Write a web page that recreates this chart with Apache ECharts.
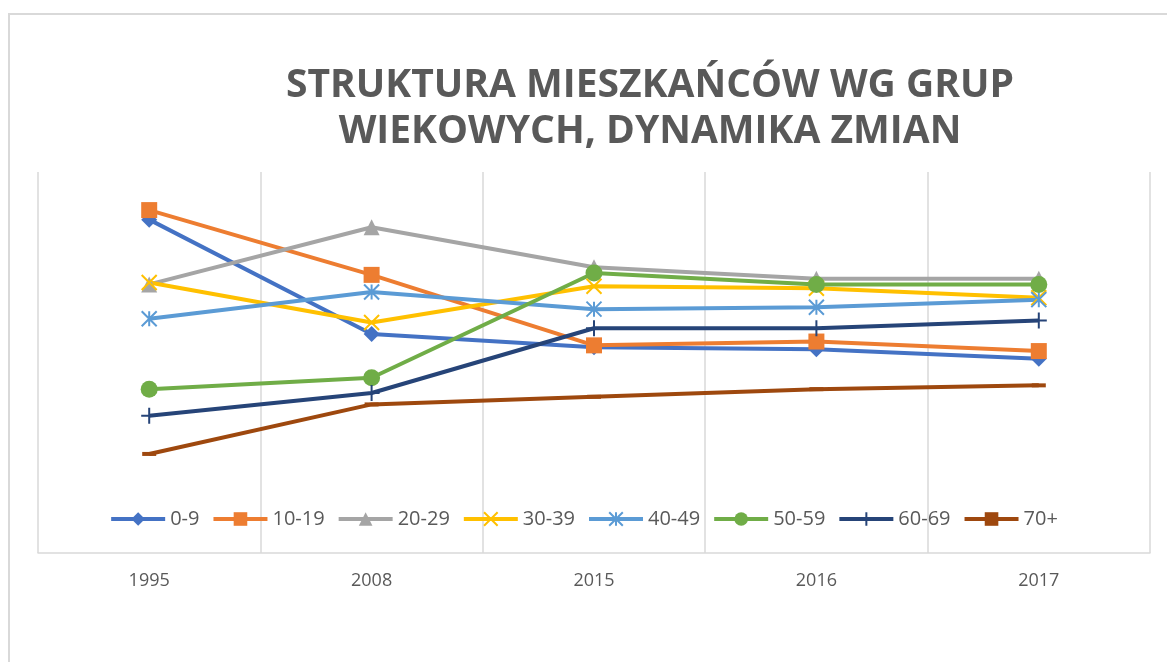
<!DOCTYPE html>
<html>
<head>
<meta charset="utf-8">
<script src="https://cdn.jsdelivr.net/npm/echarts@6/dist/echarts.min.js"></script>
<style>
  html, body { margin: 0; padding: 0; background: #fff; }
  #chart { width: 1167px; height: 662px; }
</style>
</head>
<body>
<div id="chart"></div>
<script>
const years = ['1995', '2008', '2015', '2016', '2017']
const groups = ['0-9', '10-19', '20-29', '30-39', '40-49', '50-59', '60-69', '70+']

// share of residents per age group (%)
const age0to9 = [17.5, 11.5, 10.8, 10.7, 10.2]
const age10to19 = [18.0, 14.6, 10.9, 11.1, 10.6]
const age20to29 = [14.1, 17.1, 15.0, 14.4, 14.4]
const age30to39 = [14.2, 12.1, 14.0, 13.9, 13.4]
const age40to49 = [12.3, 13.7, 12.8, 12.9, 13.3]
const age50to59 = [8.6, 9.2, 14.7, 14.1, 14.1]
const age60to69 = [7.2, 8.4, 11.8, 11.8, 12.2]
const age70plus = [5.2, 7.8, 8.2, 8.6, 8.8]

const values = [age0to9, age10to19, age20to29, age30to39, age40to49, age50to59, age60to69, age70plus]
const colors = ['#4472C4', '#ED7D31', '#A5A5A5', '#FFC000', '#5B9BD5', '#70AD47', '#264478', '#9E480E']

// marker look per series, roughly like the office chart markers
const markers = [
  { symbol: 'diamond', size: 16, border: 0 },
  { symbol: 'rect', size: 16, border: 0 },
  { symbol: 'triangle', size: 16, border: 0 },
  { symbol: 'path://M0,0L10,10M0,10L10,0', size: 15, border: 2 },
  { symbol: 'path://M5,0L5,10M0,0L10,10M0,10L10,0', size: 15, border: 2 },
  { symbol: 'circle', size: 17, border: 0 },
  { symbol: 'path://M5,0L5,10M0,5L10,5', size: 16, border: 2 },
  { symbol: 'rect', size: [14, 4], border: 0 }
]

const chart = echarts.init(document.getElementById('chart'), null, { renderer: 'canvas' })

const series = groups.map((name, i) => ({
  name: name,
  type: 'line',
  data: values[i],
  symbol: markers[i].symbol,
  symbolSize: markers[i].size,
  showAllSymbol: true,
  lineStyle: { color: colors[i], width: 4 },
  itemStyle: {
    color: colors[i],
    borderColor: colors[i],
    borderWidth: markers[i].border
  },
  emphasis: { disabled: true }
}))

const option = {
  animation: false,
  color: colors,
  title: {
    text: 'STRUKTURA MIESZKAŃCÓW WG GRUP\nWIEKOWYCH, DYNAMIKA ZMIAN',
    left: 650,
    textAlign: 'center',
    top: 63,
    padding: 0,
    textStyle: {
      fontFamily: 'Open Sans',
      fontWeight: 'bold',
      fontSize: 39,
      lineHeight: 46,
      color: '#595959'
    }
  },
  graphic: [{
    type: 'rect',
    shape: { x: 9, y: 14, width: 1300, height: 800 },
    style: { fill: 'none', stroke: '#d9d9d9', lineWidth: 2 },
    silent: true
  }],
  legend: {
    data: groups,
    top: 504,
    left: 'center',
    itemWidth: 54,
    itemHeight: 17,
    itemGap: 12,
    lineStyle: { width: 4 },
    textStyle: { fontFamily: 'Open Sans', fontSize: 20, color: '#595959' }
  },
  grid: {
    left: 38,
    right: 17,
    top: 172,
    bottom: 109
  },
  xAxis: {
    type: 'category',
    data: years,
    boundaryGap: true,
    axisLine: { lineStyle: { color: '#d9d9d9', width: 1.5 } },
    axisTick: { show: false },
    splitLine: { show: true, lineStyle: { color: '#d9d9d9', width: 1.5 } },
    axisLabel: {
      margin: 19,
      fontFamily: 'Open Sans',
      fontSize: 18,
      color: '#595959'
    }
  },
  yAxis: {
    type: 'value',
    min: 0,
    max: 20,
    show: false
  },
  series: series
}

chart.setOption(option)
</script>
</body>
</html>
